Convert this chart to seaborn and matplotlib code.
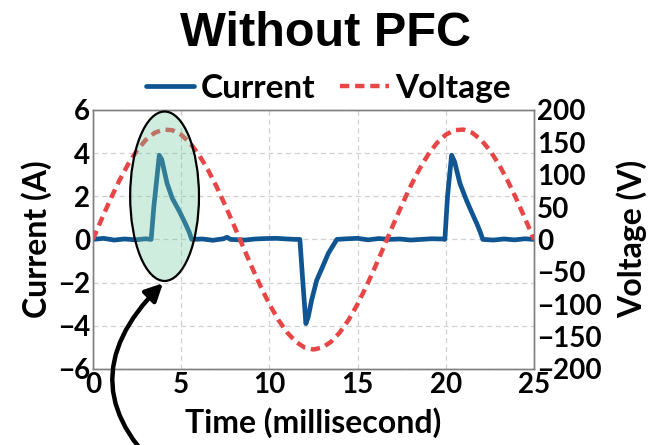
import seaborn as sns
import pandas as pd
import matplotlib.pyplot as plt
from matplotlib.patches import Ellipse

volt_t = [i * 0.5 for i in range(51)]
volt_v = [0, 31.9, 62.6, 91.1, 116.4, 137.5, 153.8, 164.7, 169.7, 168.7,
          161.7, 149.0, 131.0, 108.4, 81.9, 52.5, 21.3, -10.7, -42.3, -72.4,
          -99.9, -123.9, -143.5, -158.1, -167.0, -170.0, -167.0, -158.1, -143.5, -123.9,
          -99.9, -72.4, -42.3, -10.7, 21.3, 52.5, 81.9, 108.4, 131.0, 149.0,
          161.7, 168.7, 169.7, 164.7, 153.8, 137.5, 116.4, 91.1, 62.6, 31.9, 0]

# Corrente (A) sem PFC
cur_t = [0, 0.6, 1.2, 1.8, 2.4, 3.0, 3.3, 3.45, 3.76, 3.9, 4.2, 4.5, 4.9, 5.2, 5.45, 5.6,
         6.2, 6.8, 7.4, 7.6, 7.8, 8.6, 9.2, 9.8, 10.4, 11.0, 11.5, 11.73, 11.9, 12.07,
         12.2, 12.4, 12.68, 13.0, 13.34, 13.6, 13.83, 14.4, 15.0, 15.6, 16.2, 16.8,
         17.4, 18.0, 18.6, 19.2, 19.8, 19.95, 20.1, 20.33, 20.5, 20.8, 21.18, 21.5,
         21.75, 21.95, 22.1, 22.7, 23.3, 23.9, 24.5, 25.0]
cur_a = [0.0, 0.05, -0.03, 0.02, -0.02, 0.03, 0.0, 1.5, 3.9, 3.7, 2.6, 1.9, 1.3, 0.8, 0.35, 0.0,
         0.02, -0.04, 0.03, 0.1, 0.0, -0.03, 0.02, 0.04, 0.05, 0.02, 0.0, 0.0, -2.0, -3.9,
         -3.6, -2.8, -1.9, -1.3, -0.65, -0.3, 0.0, 0.03, 0.05, -0.02, 0.04, 0.0,
         0.02, -0.03, 0.0, 0.03, 0.02, 0.0, 2.0, 3.9, 3.6, 2.6, 1.8, 1.2,
         0.75, 0.35, 0.0, -0.03, 0.02, -0.02, 0.03, 0.0]

df_v = pd.DataFrame({"t": volt_t, "v": volt_v})
df_c = pd.DataFrame({"t": cur_t, "a": cur_a})

sns.set_style("white")
plt.rcParams['font.family'] = ['Lato', 'DejaVu Sans']
plt.rcParams['font.weight'] = 'bold'
for k in ('text.color', 'axes.labelcolor', 'xtick.color', 'ytick.color'):
    plt.rcParams[k] = 'black'

fig, ax = plt.subplots(figsize=(6.5, 4.45), dpi=100)
fig.subplots_adjust(left=0.143, right=0.8215, top=0.753, bottom=0.171)
ax2 = ax.twinx()

sns.lineplot(data=df_c, x="t", y="a", ax=ax, color="#0f5591", lw=3.4, label="Current", legend=False)
sns.lineplot(data=df_v, x="t", y="v", ax=ax2, color="#e64646", lw=3.2,
             linestyle=(0, (2.1, 1.3)), label="Voltage", legend=False)

ax.set_xlim(0, 25)
ax.set_ylim(-6, 6)
ax2.set_ylim(-200, 200)
ax.set_xticks([0, 5, 10, 15, 20, 25])
ax.set_yticks([-6, -4, -2, 0, 2, 4, 6])
ax2.set_yticks([-200, -150, -100, -50, 0, 50, 100, 150, 200])
ax.grid(True, color="#d0d0d0", ls=(0, (4, 3)), lw=0.9)
ax2.grid(False)

for a in (ax, ax2):
    a.tick_params(length=0, labelsize=20, pad=2)
    for s in a.spines.values():
        s.set_color("#808080")
        s.set_linewidth(1.0)

ax.set_xlabel("Time (millisecond)", fontsize=23, fontweight='bold', labelpad=7)
ax.set_ylabel("Current (A)", fontsize=23, fontweight='bold', labelpad=4)
ax2.set_ylabel("Voltage (V)", fontsize=23, fontweight='bold', labelpad=11)

# destaque do pico de corrente
ell = Ellipse((4.06, 2.0), 3.9, 7.85, transform=ax.transData,
              facecolor=(0.45, 0.80, 0.64, 0.34), edgecolor="black", lw=1.6, zorder=5)
ax2.add_patch(ell)
ax2.annotate("", xy=(3.97, -2.03), xycoords=ax.transData,
             xytext=(0.265, -0.08), textcoords='figure fraction',
             arrowprops=dict(arrowstyle='-|>', connectionstyle='arc3,rad=-0.55',
                             lw=3.2, color='black', mutation_scale=26, shrinkA=0, shrinkB=0),
             annotation_clip=False, zorder=6)

h1, l1 = ax.get_legend_handles_labels()
h2, l2 = ax2.get_legend_handles_labels()
fig.legend(h1 + h2, l1 + l2, loc='center', bbox_to_anchor=(0.505, 0.802), ncol=2,
           frameon=False, fontsize=24, handlelength=1.45, handletextpad=0.2,
           columnspacing=0.75, borderaxespad=0, borderpad=0)

fig.text(0.5, 0.924, "Without PFC", ha='center', va='center', fontsize=35,
         fontweight='bold', family=['Liberation Sans', 'DejaVu Sans'])

fig.savefig("out.png", dpi=100)
